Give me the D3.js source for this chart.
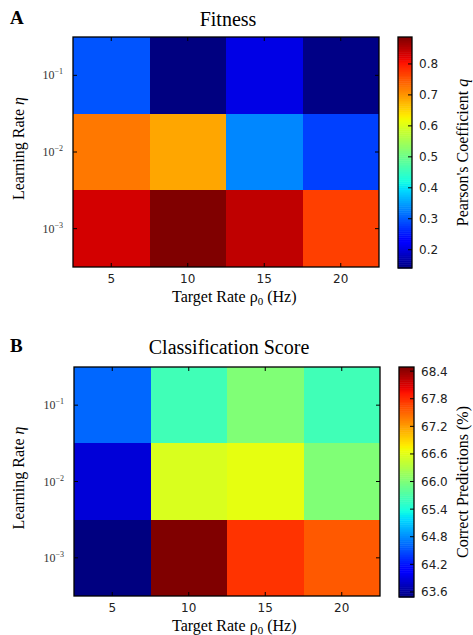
<!DOCTYPE html>
<html>
<head>
<meta charset="utf-8">
<script src="https://cdn.jsdelivr.net/npm/d3@7"></script>
<style>
  body { margin: 0; background: #fff; }
  svg { display: block; }
  .serif { font-family: "Liberation Serif", "Times New Roman", serif; }
  .sans { font-family: "DejaVu Sans", sans-serif; }
</style>
</head>
<body>
<svg id="fig" width="473" height="635"></svg>
<script>
// categories
const rates = [5, 10, 15, 20];
const etas = [1e-1, 1e-2, 1e-3];
const etaExp = ['\u22121', '\u22122', '\u22123'];

// panel A : Pearson's coefficient, rows = eta, cols = rate
const fitness = [
  [0.296, 0.141, 0.207, 0.145],
  [0.725, 0.689, 0.333, 0.281],
  [0.833, 0.887, 0.846, 0.770]
];
const fitnessRange = [0.141, 0.887];
const fitnessTicks = [0.2, 0.3, 0.4, 0.5, 0.6, 0.7, 0.8];

// panel B : correct predictions (%)
const score = [
  [64.62, 65.63, 66.02, 65.63],
  [63.87, 66.56, 66.64, 66.02],
  [63.49, 68.49, 67.77, 67.57]
];
const scoreRange = [63.49, 68.49];
const scoreTicks = [63.6, 64.2, 64.8, 65.4, 66.0, 66.6, 67.2, 67.8, 68.4];

// matplotlib "jet"
const jetR = d3.scaleLinear().domain([0, 0.35, 0.66, 0.89, 1]).range([0, 0, 1, 1, 0.5]).clamp(true);
const jetG = d3.scaleLinear().domain([0, 0.125, 0.375, 0.64, 0.91, 1]).range([0, 0, 1, 1, 0, 0]).clamp(true);
const jetB = d3.scaleLinear().domain([0, 0.11, 0.34, 0.65, 1]).range([0.5, 1, 1, 0, 0]).clamp(true);
function jet(t) {
  return d3.rgb(jetR(t) * 255, jetG(t) * 255, jetB(t) * 255).toString();
}

const svg = d3.select('#fig');

function drawPanel(p) {
  const g = svg.append('g');
  const x = d3.scaleLinear().domain([2.5, 22.5]).range([p.left, p.right]);
  const y = d3.scaleLog().domain([Math.pow(10, -0.5), Math.pow(10, -3.5)]).range([p.top, p.bottom]);
  const norm = d3.scaleLinear().domain(p.range).range([0, 1]).clamp(true);

  // cells
  const cells = [];
  p.values.forEach(function(row, i) {
    row.forEach(function(v, j) { cells.push({eta: etas[i], rate: rates[j], v: v}); });
  });
  g.selectAll('rect.cell').data(cells).enter().append('rect')
    .attr('class', 'cell')
    .attr('x', d => x(d.rate - 2.5))
    .attr('y', d => y(d.eta * Math.sqrt(10)))
    .attr('width', d => x(d.rate + 2.5) - x(d.rate - 2.5))
    .attr('height', d => y(d.eta / Math.sqrt(10)) - y(d.eta * Math.sqrt(10)))
    .attr('fill', d => jet(norm(d.v)))
    .attr('shape-rendering', 'crispEdges');

  // ticks, inward on all four sides
  const tl = 4;
  rates.forEach(function(r) {
    g.append('line').attr('x1', x(r)).attr('x2', x(r)).attr('y1', p.bottom).attr('y2', p.bottom - tl).attr('stroke', '#000');
    g.append('line').attr('x1', x(r)).attr('x2', x(r)).attr('y1', p.top).attr('y2', p.top + tl).attr('stroke', '#000');
    g.append('text').attr('class', 'sans').attr('x', x(r)).attr('y', p.bottom + 16)
      .attr('text-anchor', 'middle').attr('font-size', 12).attr('fill', '#222').text(r);
  });
  etas.forEach(function(e, i) {
    g.append('line').attr('x1', p.left).attr('x2', p.left + tl).attr('y1', y(e)).attr('y2', y(e)).attr('stroke', '#000');
    g.append('line').attr('x1', p.right).attr('x2', p.right - tl).attr('y1', y(e)).attr('y2', y(e)).attr('stroke', '#000');
    const t = g.append('text').attr('class', 'serif').attr('x', p.left - 10).attr('y', y(e) + 4)
      .attr('text-anchor', 'end').attr('font-size', 12).attr('fill', '#333');
    t.append('tspan').text('10');
    t.append('tspan').attr('font-size', 8).attr('dy', -5).text(etaExp[i]);
  });

  // frame
  g.append('rect').attr('x', p.left).attr('y', p.top)
    .attr('width', p.right - p.left).attr('height', p.bottom - p.top)
    .attr('fill', 'none').attr('stroke', '#000').attr('stroke-width', 1.3);

  // titles and labels
  g.append('text').attr('class', 'serif').attr('x', 10).attr('y', p.titleY)
    .attr('font-size', 19).attr('font-weight', 'bold').text(p.letter);
  g.append('text').attr('class', 'serif').attr('x', (p.left + p.right) / 2 + 2).attr('y', p.titleY + 2)
    .attr('text-anchor', 'middle').attr('font-size', 20).text(p.title);

  const xl = g.append('text').attr('class', 'serif').attr('x', 172).attr('y', p.bottom + 35)
    .attr('font-size', 16);
  xl.append('tspan').text('Target Rate \u03c1');
  xl.append('tspan').attr('font-size', 11).attr('dy', 3).text('0');
  xl.append('tspan').attr('dy', -3).text(' (Hz)');

  const ylx = 24, yly = (p.top + p.bottom) / 2 + 48;
  const yl = g.append('text').attr('class', 'serif').attr('transform', 'translate(' + ylx + ',' + yly + ') rotate(-90)')
    .attr('font-size', 16);
  yl.append('tspan').text('Learning Rate ');
  yl.append('tspan').attr('font-style', 'italic').text('\u03b7');

  // colorbar
  const cb = p.cbar;
  const cy = d3.scaleLinear().domain(p.range).range([cb.bottom, cb.top]);
  const steps = d3.range(0, 120);
  const step = (p.range[1] - p.range[0]) / steps.length;
  g.selectAll('rect.cb').data(steps).enter().append('rect')
    .attr('class', 'cb')
    .attr('x', cb.left)
    .attr('y', d => cy(p.range[0] + (d + 1) * step))
    .attr('width', cb.right - cb.left)
    .attr('height', d => cy(p.range[0] + d * step) - cy(p.range[0] + (d + 1) * step) + 0.5)
    .attr('fill', d => jet((d + 0.5) / steps.length));
  g.append('rect').attr('x', cb.left).attr('y', cb.top)
    .attr('width', cb.right - cb.left).attr('height', cb.bottom - cb.top)
    .attr('fill', 'none').attr('stroke', '#000').attr('stroke-width', 1.3);
  p.ticks.forEach(function(t) {
    g.append('line').attr('x1', cb.right).attr('x2', cb.right - 4).attr('y1', cy(t)).attr('y2', cy(t)).attr('stroke', '#000');
    g.append('text').attr('class', 'sans').attr('x', cb.right + 7).attr('y', cy(t) + 4.5)
      .attr('font-size', 12).attr('fill', '#222').text(t.toFixed(1));
  });
  const cl = g.append('text').attr('class', 'serif')
    .attr('transform', 'translate(468,' + ((cb.top + cb.bottom) / 2) + ') rotate(-90)')
    .attr('text-anchor', 'middle').attr('font-size', 16);
  cl.append('tspan').text(p.cbarLabel);
  if (p.cbarSym) cl.append('tspan').attr('font-style', 'italic').text(p.cbarSym);
}

drawPanel({
  letter: 'A', title: 'Fitness', titleY: 24,
  left: 73, right: 379, top: 37, bottom: 267,
  values: fitness, range: fitnessRange, ticks: fitnessTicks,
  cbar: {left: 398, right: 412, top: 37, bottom: 268},
  cbarLabel: "Pearson's Coefficient ", cbarSym: 'q'
});

drawPanel({
  letter: 'B', title: 'Classification Score', titleY: 352,
  left: 74, right: 380, top: 367, bottom: 596,
  values: score, range: scoreRange, ticks: scoreTicks,
  cbar: {left: 399, right: 414, top: 367, bottom: 597},
  cbarLabel: 'Correct Predictions (%)', cbarSym: null
});
</script>
</body>
</html>
